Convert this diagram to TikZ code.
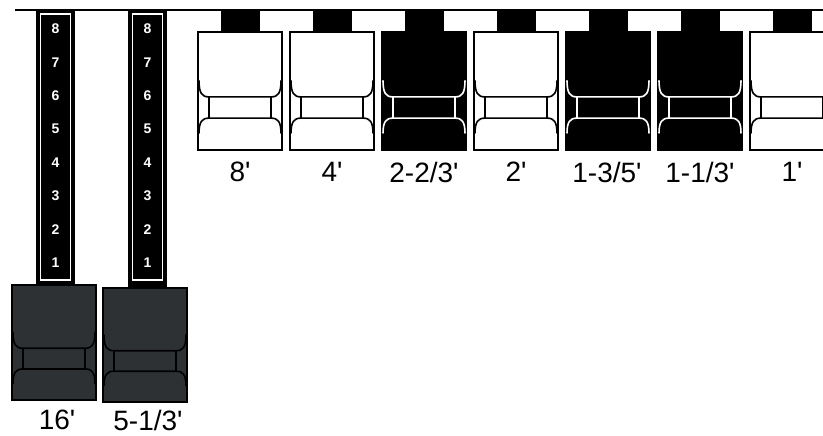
\documentclass[tikz,border=0pt]{standalone}
\usepackage{fontspec}
\setmainfont{Liberation Sans}
\newfontfamily\lblfont{Liberation Sans}
\definecolor{knobgray}{RGB}{46,49,52}
\tikzset{
  lbl/.style={font=\lblfont\fontsize{28}{30}\selectfont, inner sep=0pt, anchor=center},
  num/.style={font=\lblfont\fontsize{14}{15}\selectfont\bfseries, text=white, inner sep=0pt},
}
\newcommand\dbknob[5]{%
  \begin{scope}[shift={#1}]
    \ifnum#5=1 \fill[black] (23,-22) rectangle (62,1);\fi
    \filldraw[fill=#2,draw=black,line width=2pt] (0,0) rectangle (84,#4);
    \draw[#3,line width=1.6pt]
      (1,{0.41*#4}) .. controls (1,{0.52*#4}) and (4,{0.55*#4}) .. (11,{0.55*#4})
      -- (73,{0.55*#4}) .. controls (80,{0.55*#4}) and (83,{0.52*#4}) .. (83,{0.41*#4});
    \draw[#3,line width=1.6pt] (11,{0.55*#4}) -- (11,{0.73*#4});
    \draw[#3,line width=1.6pt] (73,{0.55*#4}) -- (73,{0.73*#4});
    \draw[#3,line width=1.6pt]
      (1,{0.86*#4}) .. controls (1,{0.76*#4}) and (4,{0.73*#4}) .. (11,{0.73*#4})
      -- (73,{0.73*#4}) .. controls (80,{0.73*#4}) and (83,{0.76*#4}) .. (83,{0.86*#4});
  \end{scope}}
\begin{document}
\begin{tikzpicture}[x=1pt,y=-1pt]
\path[use as bounding box, clip] (0,0) rectangle (823,436);
\fill[white] (0,0) rectangle (823,436);
% top rail
\draw[line width=2.5pt] (15,10) -- (823,10);
% left drawbar columns
\foreach \cx/\nm/\bt in {55.5/a/286,147.5/b/289}{
  \fill[black] (\cx-19.5,10) rectangle (\cx+19.5,\bt);
  \draw[white,line width=1.3pt] (\cx-15,14) rectangle (\cx+15,280);
  \foreach \n in {1,...,8}{
    \node[num] (n\nm\n) at (\cx,{29+33.4*(8-\n)}) {\n};
  }
}
% lower knobs
\dbknob{(12,285)}{knobgray}{black}{115}{0}
\dbknob{(103,288)}{knobgray}{black}{114}{0}
% upper knobs
\dbknob{(198,32)}{white}{black}{118}{1}
\dbknob{(290,32)}{white}{black}{118}{1}
\dbknob{(382,32)}{black}{white}{118}{1}
\dbknob{(474,32)}{white}{black}{118}{1}
\dbknob{(566,32)}{black}{white}{118}{1}
\dbknob{(658,32)}{black}{white}{118}{1}
\dbknob{(750,32)}{white}{black}{118}{1}
% labels
\node[lbl] (l8) at (240,172) {8'};
\node[lbl] (l4) at (332,172) {4'};
\node[lbl] (l223) at (424,172) {2-2/3'};
\node[lbl] (l2) at (516,172) {2'};
\node[lbl] (l135) at (607,172) {1-3/5'};
\node[lbl] (l113) at (700,172) {1-1/3'};
\node[lbl] (l1) at (792,172) {1'};
\node[lbl] (l16) at (57,420) {16'};
\node[lbl] (l513) at (148,420) {5-1/3'};
\end{tikzpicture}
\end{document}
